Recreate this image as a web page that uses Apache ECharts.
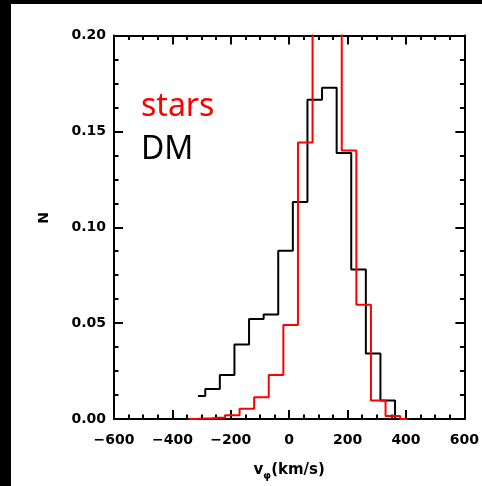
<!DOCTYPE html>
<html>
<head>
<meta charset="utf-8">
<script src="https://cdn.jsdelivr.net/npm/echarts@6/dist/echarts.min.js"></script>
<style>
  html, body { margin: 0; padding: 0; background: #fff; }
  #chart { width: 482px; height: 486px; }
</style>
</head>
<body>
<div id="chart"></div>
<script>
// histogram bin centres (km/s) and fractions
const dmCenters = [-312.5, -262.5, -212.5, -162.5, -112.5, -62.5, -12.5, 37.5, 87.5, 137.5, 187.5, 237.5, 287.5, 337.5, 387.5];
const dmValues  = [0.012, 0.0156, 0.023, 0.0388, 0.0521, 0.0545, 0.0878, 0.1132, 0.1665, 0.1728, 0.1387, 0.078, 0.0342, 0.0096, 0];

const starCenters = [-345, -295, -245, -195, -145, -95, -45, 5, 55, 105, 155, 205, 255, 305, 355, 405];
const starValues  = [0, 0.0003, 0.0007, 0.002, 0.0053, 0.0113, 0.023, 0.049, 0.1442, 0.26, 0.25, 0.140, 0.0596, 0.0096, 0.0015, 0];

const xTicks = { min: -600, max: 600, interval: 200 };
const yTicks = { min: 0, max: 0.2, interval: 0.05 };

const FONT = 'DejaVu Sans';

const chart = echarts.init(document.getElementById('chart'), null, { renderer: 'canvas' });

// ── shared axis look: ticks inside, IDL-style box ──
const axisLine = { show: true, onZero: false, lineStyle: { color: '#000', width: 2 } };
const axisTick = { show: true, inside: true, length: 9, lineStyle: { color: '#000', width: 2 } };
const minorTick = { show: true, splitNumber: 4, length: 4.5, lineStyle: { color: '#000', width: 2 } };

function fmtX(v) { return v < 0 ? '\u2212' + Math.abs(v) : String(v); }

const option = {
  backgroundColor: '#fff',
  animation: false,
  grid: { left: 114, right: 15.5, top: 35.5, bottom: 63, containLabel: false },
  xAxis: [
    {
      type: 'value', position: 'bottom', ...xTicks,
      axisLine, axisTick, minorTick,
      splitLine: { show: false },
      axisLabel: { formatter: fmtX, color: '#000', fontFamily: FONT, fontWeight: 'bold', fontSize: 14, margin: 14 },
      name: '{a|v}{b|\u03c6}{a|(km/s)}',
      nameLocation: 'middle', nameGap: 40,
      nameTextStyle: {
        rich: {
          a: { fontFamily: FONT, fontWeight: 'bold', fontSize: 15, color: '#000', lineHeight: 18 },
          b: { fontFamily: FONT, fontWeight: 'bold', fontSize: 10, color: '#000', lineHeight: 22, verticalAlign: 'bottom' }
        }
      }
    },
    {
      type: 'value', position: 'top', ...xTicks,
      axisLine, axisTick, minorTick,
      splitLine: { show: false },
      axisLabel: { show: false }
    }
  ],
  yAxis: [
    {
      type: 'value', position: 'left', ...yTicks,
      axisLine, axisTick, minorTick,
      splitLine: { show: false },
      axisLabel: { formatter: v => v.toFixed(2), color: '#000', fontFamily: FONT, fontWeight: 'bold', fontSize: 14, margin: 8 }
    },
    {
      type: 'value', position: 'right', ...yTicks,
      axisLine, axisTick, minorTick,
      splitLine: { show: false },
      axisLabel: { show: false }
    }
  ],
  series: [
    {
      name: 'DM', type: 'line', step: 'middle', clip: true,
      xAxisIndex: 0, yAxisIndex: 0,
      symbol: 'none',
      lineStyle: { color: '#000', width: 2 },
      data: dmCenters.map((c, i) => [c, dmValues[i]]),
      z: 2
    },
    {
      name: 'stars', type: 'line', step: 'middle', clip: true,
      xAxisIndex: 0, yAxisIndex: 0,
      symbol: 'none',
      lineStyle: { color: '#ff0000', width: 2 },
      data: starCenters.map((c, i) => [c, starValues[i]]),
      z: 3
    }
  ],
  graphic: [
    // black frame strips of the original screenshot
    { type: 'rect', left: 0, top: 0, shape: { width: 11, height: 486 }, style: { fill: '#000' }, z: 100 },
    { type: 'rect', left: 0, top: 0, shape: { width: 482, height: 4 }, style: { fill: '#000' }, z: 100 },
    // in-plot labels
    { type: 'text', x: 141, y: 107, style: { text: 'stars', fill: '#ff0000', font: '32px "Noto Sans"', verticalAlign: 'middle' } },
    { type: 'text', x: 141, y: 150, style: { text: 'DM', fill: '#000', font: '32px "Noto Sans"', verticalAlign: 'middle' } },
    // y axis title
    { type: 'text', x: 44, y: 218, rotation: Math.PI / 2,
      style: { text: 'N', fill: '#000', font: 'bold 14px "DejaVu Sans"', align: 'center', verticalAlign: 'middle' } }
  ]
};

chart.setOption(option);
</script>
</body>
</html>
